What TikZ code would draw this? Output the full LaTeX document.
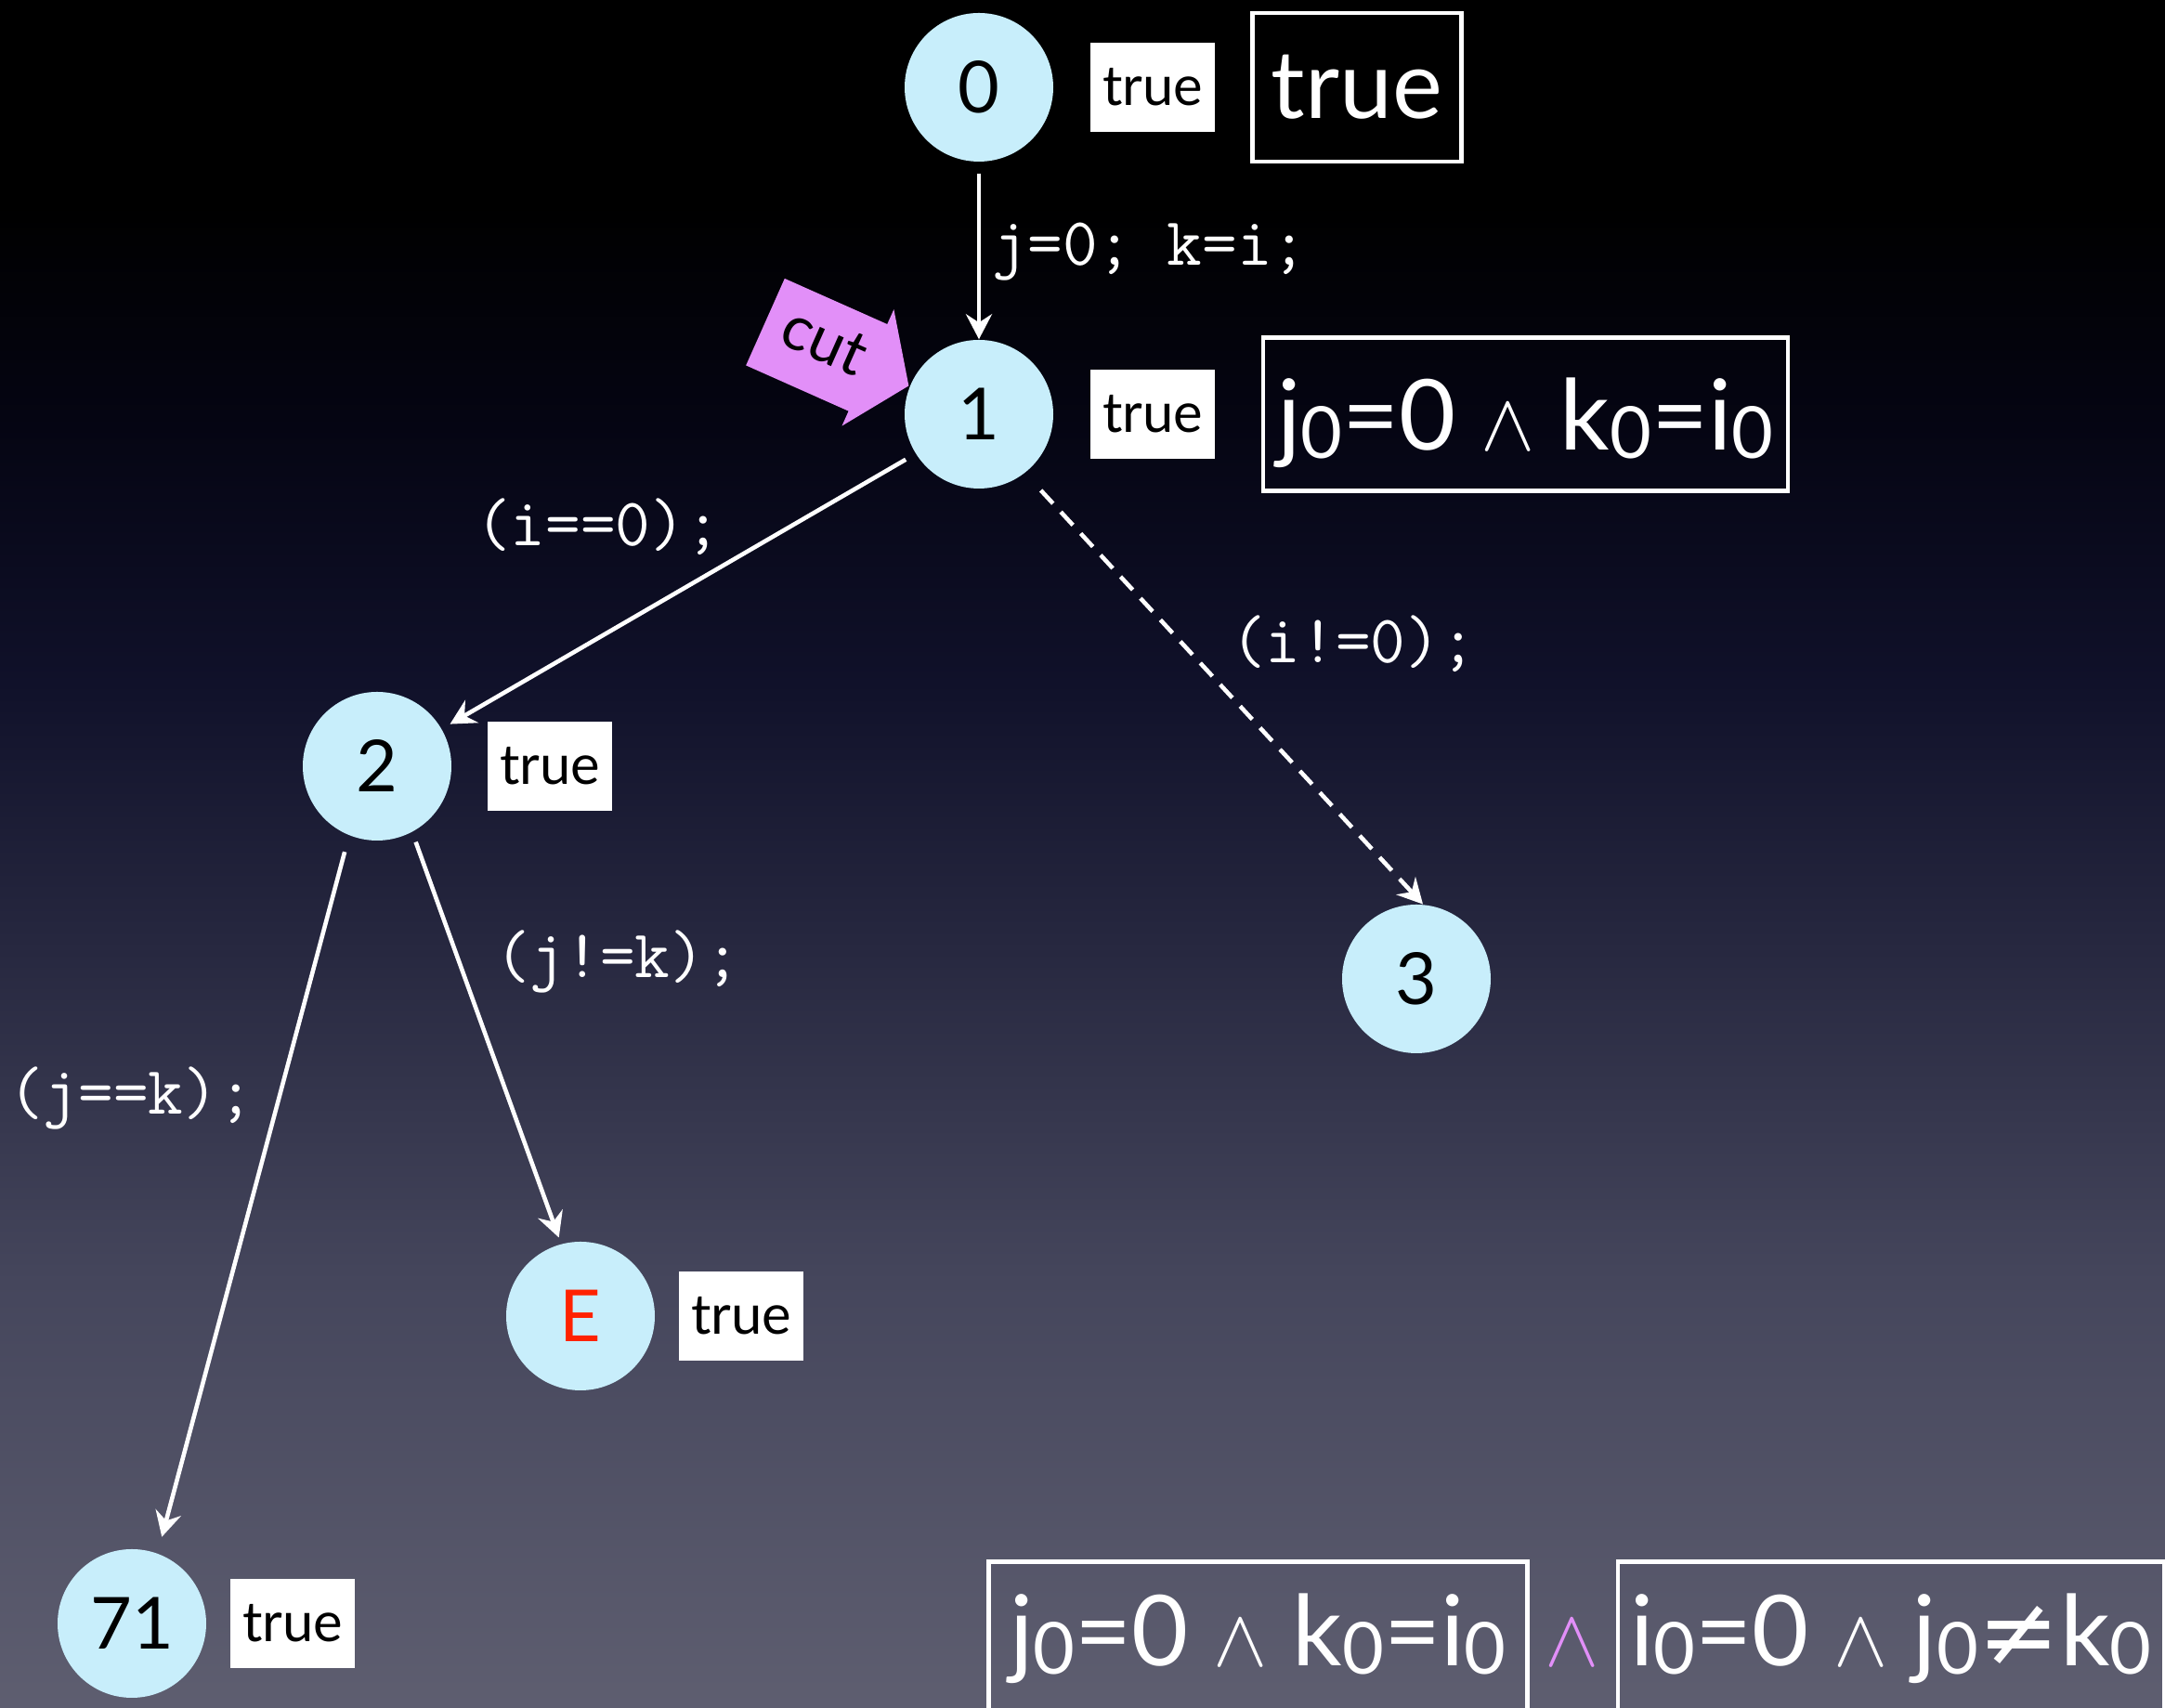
\documentclass[tikz,border=0pt]{standalone}
\usepackage{fontspec}
\setmainfont{Lato}
\newfontfamily\gsym{DejaVu Sans}
\usepackage{tikz}
\usetikzlibrary{arrows.meta,positioning,shapes.arrows,calc}
\definecolor{gfill}{HTML}{C8EEFB}
\definecolor{gpink}{HTML}{E28FF8}
\definecolor{gred}{HTML}{FF2200}
\definecolor{gbgbot}{HTML}{5E5E70}
\definecolor{gbglow}{HTML}{45465C}
\definecolor{gbgmid}{HTML}{26273F}
\definecolor{gbgdark}{HTML}{10112A}
\definecolor{gbgdeep}{HTML}{050513}
% tikz maps the path onto 25bp--75bp of the shading
\pgfdeclareverticalshading{gbg}{100bp}{color(0bp)=(gbgbot); color(25bp)=(gbgbot);
  color(37.5bp)=(gbglow); color(47.5bp)=(gbgmid); color(55bp)=(gbgdark);
  color(62.5bp)=(gbgdeep); color(69bp)=(black); color(100bp)=(black)}
\newcommand\zs[1]{\raisebox{-0.09cm}{\fontsize{22}{22}\selectfont #1}}
\newcommand\wedg{\ensuremath{\wedge}}
\tikzset{
  >={Stealth[length=2.7mm,width=2.8mm,inset=0.9mm]},
  gstate/.style={circle, fill=gfill, minimum size=1.6cm, inner sep=0pt,
                 font=\fontsize{22}{22}\selectfont},
  gtrue/.style={fill=white, minimum width=1.34cm, minimum height=0.96cm,
                inner sep=0pt, font=\fontsize{17}{17}\selectfont},
  gbox/.style={draw=white, line width=1.3pt, text=white, inner sep=0pt},
  gform/.style={gbox, font=\fontsize{30}{30}\selectfont},
  gcode/.style={text=white, inner sep=0pt, font=\ttfamily\fontsize{20.8}{20.8}\selectfont},
  gedge/.style={->, white, line width=1.3pt, shorten <=0.12cm, shorten >=0.03cm},
  gcut/.style={single arrow, fill=gpink, single arrow head extend=0.175cm,
               single arrow tip angle=110, minimum height=1.69cm,
               text height=0.3cm, text depth=0cm, inner ysep=0.355cm,
               inner xsep=0.14cm, font=\fontsize{19}{19}\selectfont},
}

\begin{document}
\begin{tikzpicture}[x=1cm,y=1cm]

  % fundo
  \shade[shading=gbg] (0,0) rectangle (23.31,18.39);
  \useasboundingbox (0,0) rectangle (23.31,18.39);

  % --- estados ---
  \node[gstate] (n0) at (10.54,17.45) {0};
  \node[gstate] (n1) at (10.54,13.93) {1};
  \node[gstate] (n2) at (4.06,10.14) {2};
  \node[gstate] (n3) at (15.25,7.85) {3};
  \node[gstate, text=gred] (nE) at (6.25,4.22) {E};
  \node[gstate] (n71) at (1.42,0.91) {71};

  \node[gtrue, right=0.39cm of n0] (t0) {true};
  \node[gtrue, right=0.39cm of n1] (t1) {true};
  \node[gtrue, right=0.38cm of n2] (t2) {true};
  \node[gtrue, right=0.25cm of nE] (tE) {true};
  \node[gtrue, right=0.25cm of n71] (t71) {true};

  % interpolantes
  \node[gbox, right=0.37cm of t0, minimum width=2.25cm, minimum height=1.6cm,
        font=\fontsize{29}{29}\selectfont] (b0) {true};
  \node[gform, right=0.485cm of t1, minimum width=5.65cm,
        text height=1.21cm, text depth=0.44cm] (b1)
    {j\zs{0}=0 \wedg{} k\zs{0}=i\zs{0}};

  % --- transicoes ---
  \draw[gedge, shorten >=0pt] (n0) -- (n1);
  \draw[gedge, shorten >=0.1cm] (n1.212) -- (n2.30);
  \draw[gedge, shorten <=0.25cm, shorten >=0pt,
        dash pattern=on 5.5pt off 3.5pt] (n1.-52) -- (n3.85);
  \draw[gedge, shorten <=0.11cm, shorten >=0.07cm] (n2.-62) -- (nE.105);
  \draw[gedge, shorten <=0.18cm, shorten >=0.18cm] (n2.-112) -- (n71.70);

  \node[gcode, anchor=west] (l01) at (10.68,15.68) {j=0; k=i;};
  \node[gcode] (l12) at (6.44,12.72) {(i==0);};
  \node[gcode] (l13) at (14.57,11.46) {(i!=0);};
  \node[gcode] (l2E) at (6.65,8.04) {(j!=k);};
  \node[gcode] (l271) at (1.41,6.57) {(j==k);};

  % corte
  \node[gcut, anchor=tip, rotate=-24] (cut) at (n1.158) {cut};

  % --- conjuncao final ---
  \node[gform, anchor=north west, minimum width=5.80cm,
        text height=1.12cm, text depth=0.8cm] (fa) at (10.62,1.60)
    {j\zs{0}=0 \wedg{} k\zs{0}=i\zs{0}};
  \node[gform, right=0.93cm of fa, minimum width=5.88cm,
        text height=1.12cm, text depth=0.8cm] (fb)
    {i\zs{0}=0 \wedg{} j\zs{0}{\gsym ≠}k\zs{0}};
  \node[text=gpink, inner sep=0pt, anchor=base, font=\fontsize{30}{30}\selectfont] (and)
    at ($(fa.base east)!0.5!(fb.base west)$) {\wedg};

\end{tikzpicture}
\end{document}
